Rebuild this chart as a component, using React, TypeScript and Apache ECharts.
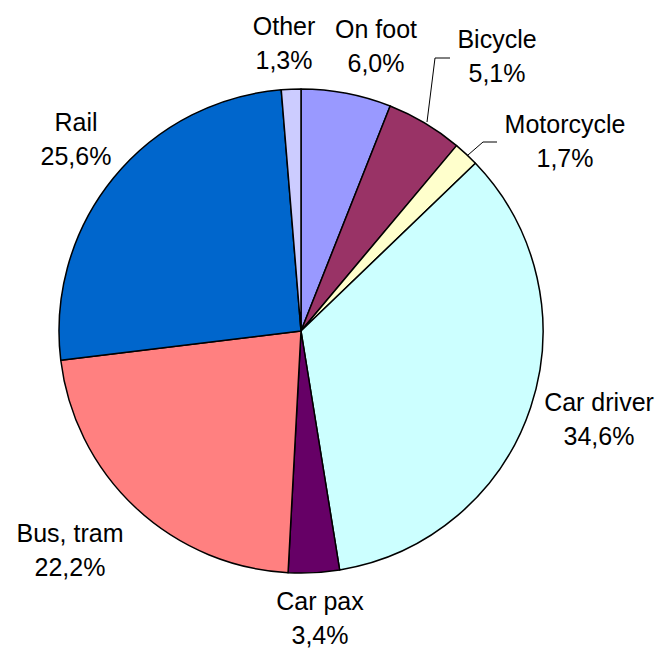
import React, { useEffect, useRef } from "react";
import * as echarts from "echarts";

const categories = ["On foot", "Bicycle", "Motorcycle", "Car driver", "Car pax", "Bus, tram", "Rail", "Other"];
const shares = [6.0, 5.1, 1.7, 34.6, 3.4, 22.2, 25.6, 1.3];
const colors = ["#9999FF", "#993366", "#FFFFCC", "#CCFFFF", "#660066", "#FF8080", "#0066CC", "#CCCCFF"];

// label anchor positions (layout only)
const labelPos: Array<[number, number]> = [
  [376, 46],
  [497, 56],
  [565, 141],
  [599, 419],
  [320, 618],
  [70, 550],
  [76, 139],
  [284, 43],
];
const leaderLines: Record<number, Array<[number, number]>> = {
  1: [[427, 122], [435, 58], [450, 58]],
  2: [[468, 155], [483, 142], [497, 142]],
};

export default function App() {
  const ref = useRef<HTMLDivElement>(null);
  useEffect(() => {
    if (!ref.current) return;
    const chart = echarts.init(ref.current, undefined, { renderer: "svg" });
    const data = categories.map((name, i) => ({
      name,
      value: shares[i],
      itemStyle: { color: colors[i] },
      labelLine: { show: !!leaderLines[i] },
    }));
    chart.setOption({
      animation: false,
      backgroundColor: "#ffffff",
      series: [
        {
          type: "pie",
          center: [301, 331],
          radius: 242,
          startAngle: 90,
          clockwise: true,
          data,
          itemStyle: { borderColor: "#000000", borderWidth: 1.5 },
          emphasis: { disabled: true },
          label: {
            show: true,
            position: "outside",
            color: "#000000",
            fontFamily: "Liberation Sans, Arial, sans-serif",
            fontSize: 25,
            lineHeight: 34,
            align: "center",
            overflow: "none",
            width: 200,
            formatter: (p: any) => p.name + "\n" + Number(p.value).toFixed(1).replace(".", ",") + "%",
          },
          labelLine: { lineStyle: { color: "#000000", width: 1 } },
          labelLayout: (params: any) => {
            const i = params.dataIndex;
            const pos = labelPos[i];
            const res: any = { x: pos[0], y: pos[1], align: "center", verticalAlign: "middle" };
            if (leaderLines[i]) res.labelLinePoints = leaderLines[i];
            return res;
          },
        },
      ],
    });
    return () => chart.dispose();
  }, []);
  return <div ref={ref} style={{ position: "absolute", left: 0, top: 0, width: 658, height: 652 }} />;
}
